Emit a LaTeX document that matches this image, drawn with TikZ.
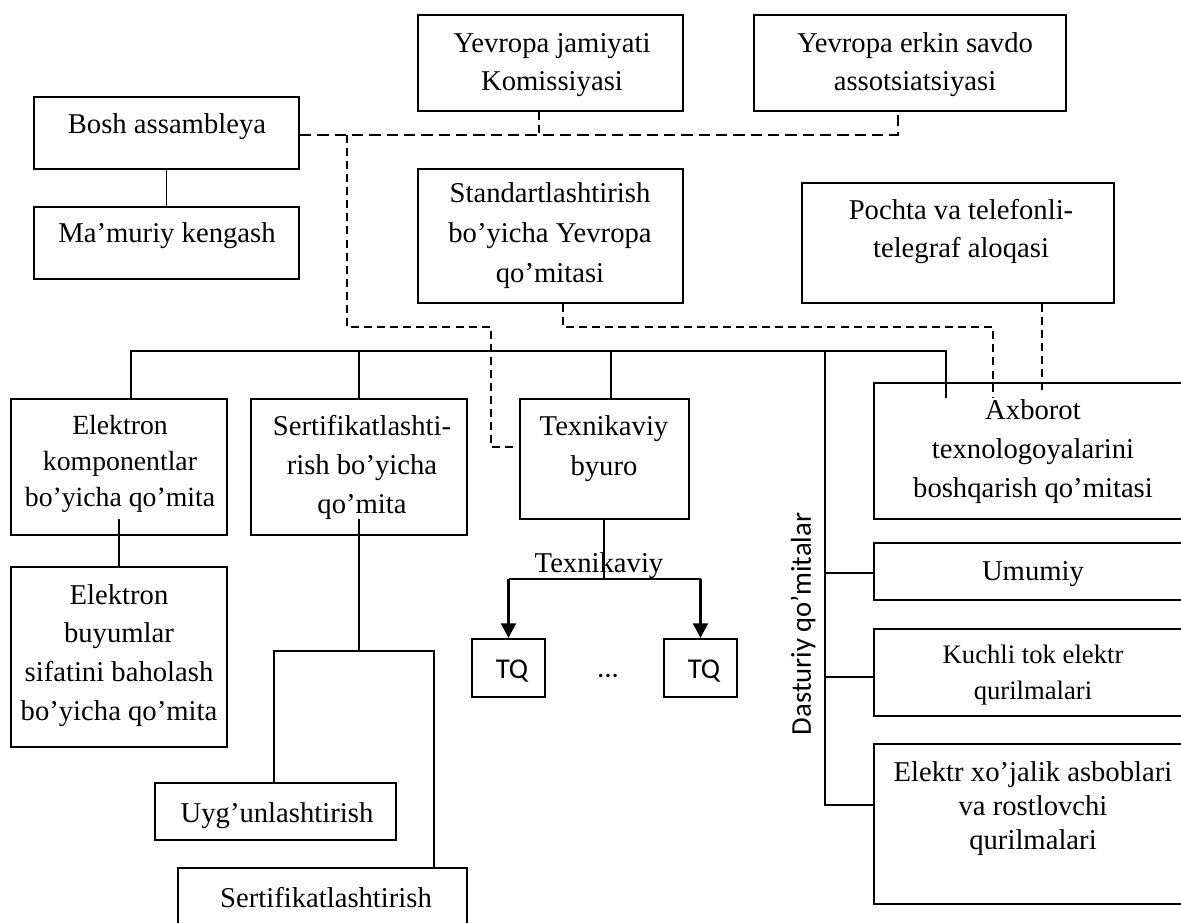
\documentclass[tikz,border=0pt]{standalone}
\usepackage{fontspec}
\setmainfont{Liberation Serif}
\newfontfamily\calfont{Carlito}
\usetikzlibrary{fit,arrows.meta}
\begin{document}
\begin{tikzpicture}[x=0.75pt,y=-0.75pt,
  box/.style={draw, line width=1.5pt, inner sep=0pt},
  txt/.style={inner sep=0pt, align=center, anchor=base, font=\fontsize{21.5}{29.25}\selectfont},
  conn/.style={line width=1.2pt},
  dsh/.style={line width=1.2pt, dash pattern=on 6pt off 3.8pt},
  dshA/.style={line width=1.2pt, dash pattern=on 8.5pt off 4.5pt},
  thk/.style={line width=2.2pt},
  arr/.style={line width=2.2pt, -{Triangle[width=11pt,length=11pt]}},
]
\clip (0,0) rectangle (1181,923);
\fill[white] (0,0) rectangle (1181,923);

% boxes
\node[box, fit={(34,97) (299,169)}] (bosh) {};
\node[box, fit={(34,207) (299,279)}] (mam) {};
\node[box, fit={(418,15) (683,111)}] (kom) {};
\node[box, fit={(754,15) (1066,111)}] (erk) {};
\node[box, fit={(418,169) (683,303)}] (std) {};
\node[box, fit={(802,183) (1114,303)}] (poc) {};
\node[box, fit={(11,399) (227,535)}] (ek) {};
\node[box, fit={(251,399) (467,535)}] (sert) {};
\node[box, fit={(520,399) (689,519)}] (byu) {};
\node[box, fit={(874,383) (1200,519)}] (axb) {};
\node[box, fit={(874,543) (1200,600)}] (um) {};
\node[box, fit={(874,629) (1200,716)}] (kuch) {};
\node[box, fit={(874,744) (1200,904)}] (elx) {};
\node[box, fit={(11,567) (227,747)}] (eb) {};
\node[box, fit={(155,783) (396,840)}] (uyg) {};
\node[box, fit={(178,868) (467,950)}] (ser) {};
\node[box, fit={(472,639) (545,697)}] (tqa) {};
\node[box, fit={(664,639) (737,697)}] (tqb) {};

% texts (anchor base = baseline of the last line)
\node[txt] (boshT) at (167,134) {Bosh assambleya};
\node[txt] (mamT) at (167,243) {Ma’muriy kengash};
\node[txt, font=\fontsize{21.5}{29}\selectfont] (komT) at (552,91) {Yevropa jamiyati\\Komissiyasi};
\node[txt, font=\fontsize{21.5}{29}\selectfont] (erkT) at (915,91) {Yevropa erkin savdo\\assotsiatsiyasi};
\node[txt, font=\fontsize{21.5}{30}\selectfont] (stdT) at (550,283) {Standartlashtirish\\bo’yicha Yevropa\\qo’mitasi};
\node[txt, font=\fontsize{21.5}{28.5}\selectfont] (pocT) at (961,258) {Pochta va telefonli-\\telegraf aloqasi};
\node[txt, font=\fontsize{20.8}{27}\selectfont] (ekT) at (120,506) {Elektron\\komponentlar\\bo’yicha qo’mita};
\node[txt, font=\fontsize{21.5}{29}\selectfont] (sertT) at (362,513) {Sertifikatlashti-\\rish bo’yicha\\qo’mita};
\node[txt, font=\fontsize{21.5}{30}\selectfont] (byuT) at (604,475) {Texnikaviy\\byuro};
\node[txt, font=\fontsize{21.5}{29}\selectfont] (axbT) at (1033,497) {Axborot\\texnologoyalarini\\boshqarish qo’mitasi};
\node[txt] (umT) at (1033,580) {Umumiy};
\node[txt, font=\fontsize{20}{27}\selectfont] (kuchT) at (1033,699) {Kuchli tok elektr\\qurilmalari};
\node[txt, font=\fontsize{21.5}{25.5}\selectfont] (elxT) at (1033,849) {Elektr xo’jalik asboblari\\va rostlovchi\\qurilmalari};
\node[txt, font=\fontsize{21.5}{29}\selectfont] (ebT) at (119,720) {Elektron\\buyumlar\\sifatini baholash\\bo’yicha qo’mita};
\node[txt] (uygT) at (277,822) {Uyg’unlashtirish};
\node[txt] (serT) at (326,907) {Sertifikatlashtirish};
\node[txt] (texL) at (599,572) {Texnikaviy};
\node[txt, font=\calfont\fontsize{21.5}{26}\selectfont] (tqaT) at (512,678) {TQ};
\node[txt, font=\calfont\fontsize{21.5}{26}\selectfont] (tqbT) at (704,678) {TQ};
\node[txt, font=\calfont\fontsize{21.5}{26}\selectfont] (dots) at (608,677) {...};
\node[inner sep=0pt, rotate=90, font=\calfont\fontsize{21.5}{26}\selectfont] (dast) at (803,624) {Dasturiy qo’mitalar};

% solid connectors
\draw[conn] (bosh.south) -- (mam.north);
\coordinate (busL) at (131,351);
\coordinate (busR) at (946,351);
\draw[conn] (ek.north -| busL) -- (busL) -- (busR) -- (946,398);
\draw[conn] (sert.north) -- (sert.north |- busL);
\draw[conn] (byu.north -| 611,0) -- (611,351);
\coordinate (dv) at (825,351);
\coordinate (dvb) at (825,805);
\draw[conn] (dv) -- (dvb) -- (elx.west |- dvb);
\draw[conn] (825,573) -- (um.west |- 0,573);
\draw[conn] (825,677) -- (kuch.west |- 0,677);
\draw[conn] (119,519) -- (eb.north);
\coordinate (sj) at (359,651);
\draw[conn] (359,519) -- (sj);
\draw[conn] (uyg.north -| 274,0) -- (274,651) -- (434,651) -- (ser.north -| 434,0);

% Texnikaviy branch
\coordinate (tj) at (604,579);
\draw[thk] (byu.south -| tj) -- (tj);
\draw[thk] (tqa.north |- tj) -- (tqb.north |- tj);
\draw[arr] (tqa.north |- tj) -- (tqa.north);
\draw[arr] (tqb.north |- tj) -- (tqb.north);

% dashed connectors
\coordinate (dA) at (898,135);
\draw[dshA] (bosh.east |- dA) -- (dA) -- (dA |- erk.south);
\coordinate (dK) at (539,135);
\draw[dsh] (dK |- kom.south) -- (dK);
\coordinate (dB) at (347,135);
\coordinate (dBe) at (513,447);
\draw[dsh] (dB) -- (347,327) -- (491,327) -- (491,447) -- (dBe);
\draw[dsh] (std.south -| 563,0) -- (563,327) -- (993,327) -- (993,398);
\draw[dsh] (poc.south -| 1042,0) -- (1042,395);
\end{tikzpicture}
\end{document}
